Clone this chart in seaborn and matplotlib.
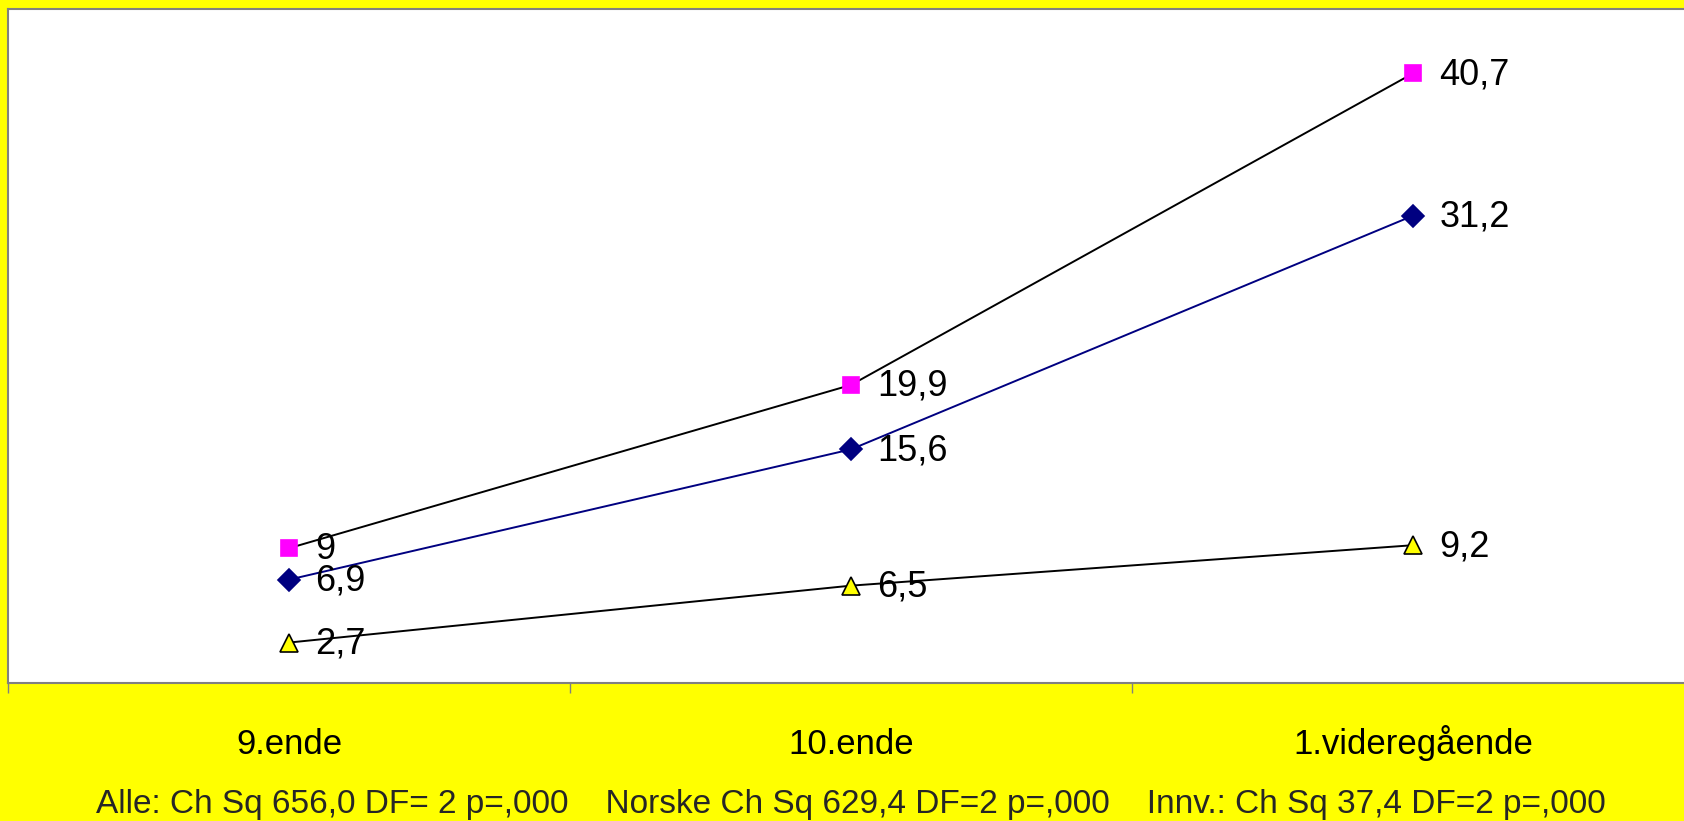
import numpy as np
import pandas as pd
import seaborn as sns
import matplotlib.pyplot as plt

# categories along x
kategorier = ['9.ende', '10.ende', '1.videregående']

# series values
norske = [9.0, 19.9, 40.7]
alle = [6.9, 15.6, 31.2]
innv = [2.7, 6.5, 9.2]

etiketter = {'Norske': ['9', '19,9', '40,7'],
             'Alle': ['6,9', '15,6', '31,2'],
             'Innv.': ['2,7', '6,5', '9,2']}

bunntekst = ('Alle: Ch Sq 656,0 DF= 2 p=,000    Norske Ch Sq 629,4 DF=2 p=,000    '
             'Innv.: Ch Sq 37,4 DF=2 p=,000')

df = pd.DataFrame({'kategori': kategorier * 3,
                   'verdi': norske + alle + innv,
                   'gruppe': ['Norske'] * 3 + ['Alle'] * 3 + ['Innv.'] * 3})

sns.set_theme(style='white')
plt.rcParams['font.family'] = ['Liberation Sans', 'DejaVu Sans']

fig = plt.figure(figsize=(16.84, 8.21), dpi=100, facecolor='#FFFF00')
ax = fig.add_axes([8 / 1684, 138 / 821, 1686 / 1684, 674 / 821])
ax.set_facecolor('white')

# style per series: (line colour, marker, marker face, marker edge, size)
stil = {'Norske': ('black', 's', '#FF00FF', '#FF00FF', 12),
        'Alle': ('#000080', 'D', '#000080', '#000080', 11),
        'Innv.': ('black', '^', '#FFFF00', 'black', 13)}

for gruppe, (lc, mk, mf, me, ms) in stil.items():
    d = df[df['gruppe'] == gruppe]
    sns.lineplot(data=d, x='kategori', y='verdi', ax=ax, sort=False,
                 color=lc, linewidth=1.4, marker=mk, markersize=ms,
                 markerfacecolor=mf, markeredgecolor=me, markeredgewidth=1.2)
    for i, (v, t) in enumerate(zip(d['verdi'], etiketter[gruppe])):
        ax.annotate(t, (i, v), xytext=(19, -1), textcoords='offset points',
                    ha='left', va='center', fontsize=26, color='black')

ax.set_xlim(-0.5, 2.5)
ax.set_ylim(0, 45)
ax.set_yticks([])
ax.set_ylabel('')
ax.set_xticks(range(3))
ax.set_xticklabels(kategorier, fontsize=25, va='baseline')
ax.set_xticks([-0.5, 0.5, 1.5, 2.5], minor=True)
ax.tick_params(axis='x', which='major', length=0, pad=51, colors='black')
ax.tick_params(axis='x', which='minor', length=7, width=1, color='#808080',
               direction='out', bottom=True)
ax.set_xlabel(bunntekst, fontsize=24)
ax.xaxis.label.set_va('baseline')
ax.xaxis.set_label_coords(0.5, -0.193)

for s in ax.spines.values():
    s.set_color('#808080')
    s.set_linewidth(1.5)
ax.spines['right'].set_visible(False)

fig.savefig('out.png', dpi=100, facecolor=fig.get_facecolor())
